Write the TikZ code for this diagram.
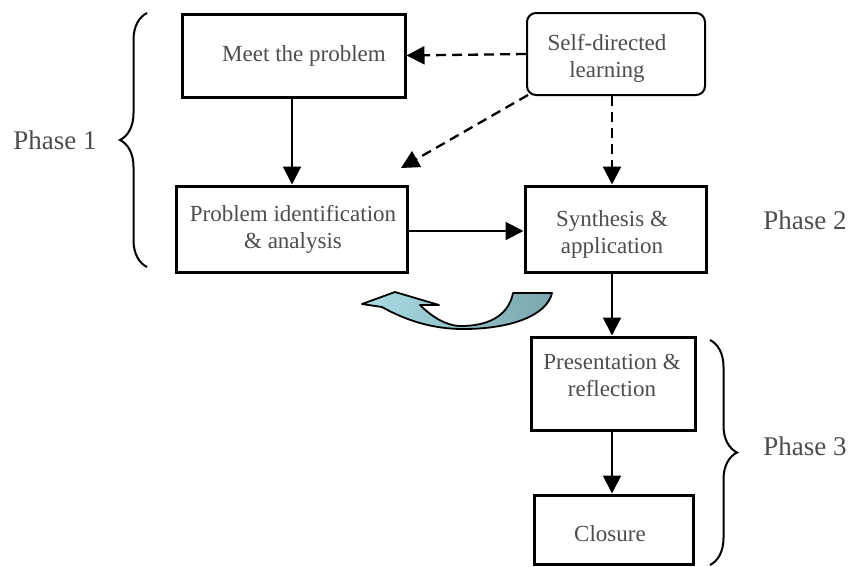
\documentclass[tikz,border=0pt]{standalone}
\usepackage{fontspec}
\setmainfont{Liberation Serif}
\usetikzlibrary{arrows.meta,decorations.pathreplacing,calc}
\definecolor{txt}{HTML}{4D4D4D}
\definecolor{lightc}{HTML}{AADDE5}
\definecolor{darkc}{HTML}{7AA6AD}
\newcommand{\twolines}[2]{\begin{tabular}{@{}c@{}}#1\\#2\end{tabular}}
\begin{document}
\begin{tikzpicture}[x=1pt,y=-1pt,
 box/.style={draw=black,line width=3pt,rectangle,inner sep=0pt},
 lbl/.style={inner sep=0pt,align=center,text=txt,font=\fontsize{23}{27}\selectfont},
 arr/.style={line width=2pt,-{Triangle[length=18pt,width=18pt]}},
 dasharr/.style={arr,line width=2.3pt,dash pattern=on 10pt off 6pt},
 phase/.style={text=txt,font=\fontsize{27}{30}\selectfont},
 brc/.style={decorate,decoration={brace,amplitude=27pt},line width=2pt}]
\useasboundingbox[fill=white] (0,0) rectangle (857,566);
% boxes
\node[box,minimum width=223pt,minimum height=83pt] (meet) at (293.5,55.5) {};
\node[box,line width=2pt,rounded corners=9pt,minimum width=178pt,minimum height=82pt] (self) at (616,54) {};
\node[box,minimum width=231pt,minimum height=86pt] (ident) at (291.5,229) {};
\node[box,minimum width=181pt,minimum height=86pt] (synth) at (615.5,229) {};
\node[box,minimum width=164pt,minimum height=93pt] (pres) at (613,383.5) {};
\node[box,minimum width=159pt,minimum height=69pt] (clos) at (613.5,529.5) {};
% texts
\node[lbl] (tmeet) at (304,56) {Meet the problem};
\node[lbl] (tself) at (607,59) {\twolines{Self-directed}{learning}};
\node[lbl] (tident) at (293,230) {\twolines{Problem identification}{\& analysis}};
\node[lbl] (tsynth) at (612,235) {\twolines{Synthesis \&}{application}};
\node[lbl] (tpres) at (612,378) {\twolines{Presentation \&}{reflection}};
\node[lbl] (tclos) at (610,534) {Closure};
% phase labels
\node[phase] (p1) at (55,140) {Phase 1};
\node[phase] (p2) at (805,220) {Phase 2};
\node[phase] (p3) at (805,446) {Phase 3};
% connectors
\draw[arr] (meet.south -| 292,0) -- (ident.north -| 292,0);
\draw[dasharr] (self.west) -- (meet.east);
\coordinate (dtip) at (401,168);
\coordinate (dstart) at (528,95);
\draw[dasharr] (dstart) -- (dtip);
\draw[dasharr] (self.south -| 612,0) -- (synth.north -| 612,0);
\draw[arr] (ident.east |- 0,231) -- (synth.west |- 0,231);
\draw[arr] (synth.south -| 612,0) -- (pres.north -| 612,0);
\draw[arr] (pres.south -| 612,0) -- (clos.north -| 612,0);
% braces
\draw[brc] (147,267) -- (147,13);
\draw[brc] (710,340) -- (710,565);
% curved arrow
\shadedraw[left color=lightc,right color=darkc,draw=black,line width=1.8pt,line join=round]
 (552,293) -- (513,293)
 .. controls (508,318) and (485,326) .. (461,326)
 .. controls (445,326) and (430,315) .. (420,305)
 -- (439,305) -- (395,292) -- (362,304) -- (382,307)
 .. controls (405,320) and (432,329) .. (463,329)
 .. controls (512,329) and (547,315) .. (552,293) -- cycle;
\end{tikzpicture}
\end{document}
